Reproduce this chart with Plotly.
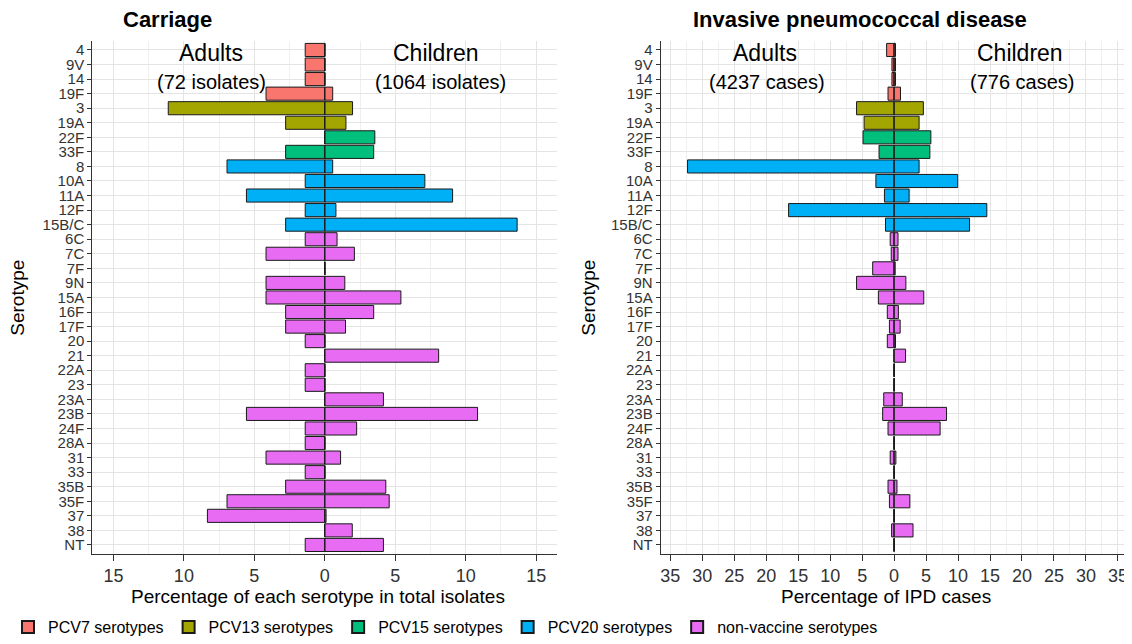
import plotly.graph_objects as go

serotypes = ["4", "9V", "14", "19F", "3", "19A", "22F", "33F", "8", "10A", "11A", "12F",
             "15B/C", "6C", "7C", "7F", "9N", "15A", "16F", "17F", "20", "21", "22A", "23",
             "23A", "23B", "24F", "28A", "31", "33", "35B", "35F", "37", "38", "NT"]
groups = (["PCV7 serotypes"] * 4 + ["PCV13 serotypes"] * 2 + ["PCV15 serotypes"] * 2 +
          ["PCV20 serotypes"] * 5 + ["non-vaccine serotypes"] * 22)
group_order = ["PCV7 serotypes", "PCV13 serotypes", "PCV15 serotypes",
               "PCV20 serotypes", "non-vaccine serotypes"]
group_colors = ["#F8766D", "#A3A500", "#00BF7D", "#00B0F6", "#E76BF3"]

carriage_adults = [1.39, 1.39, 1.39, 4.17, 11.11, 2.78, 0, 2.78, 6.94, 1.39, 5.56, 1.39,
                   2.78, 1.39, 4.17, 0, 4.17, 4.17, 2.78, 2.78, 1.39, 0, 1.39, 1.39,
                   0, 5.56, 1.39, 1.39, 4.17, 1.39, 2.78, 6.94, 8.33, 0, 1.39]
carriage_children = [0, 0, 0, 0.56, 1.97, 1.5, 3.55, 3.47, 0.56, 7.1, 9.07, 0.79,
                     13.65, 0.87, 2.1, 0, 1.42, 5.4, 3.47, 1.47, 0, 8.08, 0, 0,
                     4.16, 10.84, 2.26, 0, 1.12, 0, 4.33, 4.57, 0.09, 1.95, 4.16]
ipd_adults = [1.17, 0.34, 0.34, 0.95, 5.87, 4.69, 4.86, 2.35, 32.3, 2.85, 1.51, 16.5,
              1.34, 0.61, 0.45, 3.35, 5.87, 2.46, 1.06, 0.73, 1.06, 0, 0, 0,
              1.62, 1.79, 0.95, 0, 0.61, 0, 0.95, 0.73, 0, 0.39, 0]
ipd_children = [0.22, 0.22, 0.22, 1.0, 4.58, 3.91, 5.75, 5.59, 3.91, 9.94, 2.35, 14.5,
                11.8, 0.61, 0.61, 0.17, 1.84, 4.64, 0.67, 0.95, 0.22, 1.79, 0, 0,
                1.28, 8.2, 7.2, 0, 0.28, 0, 0.45, 2.46, 0, 2.96, 0]

carriage_ticks = [-15, -10, -5, 0, 5, 10, 15]
carriage_minor = [-12.5, -7.5, -2.5, 2.5, 7.5, 12.5]
ipd_ticks = [-35, -30, -25, -20, -15, -10, -5, 0, 5, 10, 15, 20, 25, 30, 35]
ipd_minor = [-32.5, -27.5, -22.5, -17.5, -12.5, -7.5, -2.5, 2.5, 7.5, 12.5, 17.5, 22.5, 27.5, 32.5]

# page body has an 8px default margin: lay out in page pixels, convert to figure
OFF = 8
W, H = 1132 - OFF, 644 - OFF
FONT = "Liberation Sans, Arial, sans-serif"


def px(x):
    return (x - OFF) / W


def py(y):
    return 1 - (y - OFF) / H


fig = go.Figure()
idx = list(range(len(serotypes)))

panels = [("x", "y", carriage_adults, carriage_children, True),
          ("x2", "y2", ipd_adults, ipd_children, False)]
for xa, ya, adults, children, showleg in panels:
    for g, col in zip(group_order, group_colors):
        ys = [i for i in idx if groups[i] == g]
        for side, vals in (("Adults", adults), ("Children", children)):
            xs = [(-vals[i] if side == "Adults" else vals[i]) for i in ys]
            fig.add_trace(go.Bar(
                x=xs, y=ys, orientation="h", width=0.9,
                marker=dict(color=col, line=dict(color="#1a1a1a", width=1)),
                name=g, legendgroup=g,
                showlegend=(showleg and side == "Adults"),
                xaxis=xa, yaxis=ya))
    # zero-width bar outlines (vertical segment at 0 for each serotype row)
    zx, zy = [], []
    for i in idx:
        zx += [0, 0, None]
        zy += [i - 0.45, i + 0.45, None]
    fig.add_trace(go.Scatter(x=zx, y=zy, mode="lines",
                             line=dict(color="#1a1a1a", width=1),
                             showlegend=False, hoverinfo="skip",
                             xaxis=xa, yaxis=ya))

grid_major = "#E4E4E4"
grid_minor = "#EFEFEF"
axis_col = "#333333"

ydom = [py(558), py(41.5)]
yaxis_common = dict(
    tickmode="array", tickvals=idx, ticktext=serotypes,
    range=[len(serotypes) - 1 + 0.6, -0.6], domain=ydom,
    showgrid=True, gridcolor=grid_major, gridwidth=1,
    zeroline=False, showline=True, linecolor=axis_col, linewidth=1,
    ticks="outside", ticklen=4, tickcolor=axis_col,
    tickfont=dict(family=FONT, size=15, color="#333333"),
    automargin=False, fixedrange=True)


def xaxis_common(ticks, minor, rng, dom, anchor):
    return dict(
        tickmode="array", tickvals=ticks, ticktext=[str(abs(t)) for t in ticks],
        range=rng, domain=dom, anchor=anchor,
        showgrid=True, gridcolor=grid_major, gridwidth=1,
        minor=dict(tickmode="array", tickvals=minor, showgrid=True,
                   gridcolor=grid_minor, gridwidth=1, ticks=""),
        zeroline=False, showline=True, linecolor=axis_col, linewidth=1,
        ticks="outside", ticklen=6, tickcolor=axis_col,
        tickfont=dict(family=FONT, size=18, color="#333333"),
        automargin=False, fixedrange=True)


fig.update_layout(
    width=W, height=H,
    margin=dict(l=0, r=0, t=0, b=0),
    paper_bgcolor="white", plot_bgcolor="white",
    barmode="overlay",
    font=dict(family=FONT, color="black"),
    xaxis=xaxis_common(carriage_ticks, carriage_minor, [-16.5, 16.5],
                       [px(92.3), px(557.3)], "y"),
    yaxis=dict(yaxis_common, anchor="x"),
    xaxis2=xaxis_common(ipd_ticks, ipd_minor, [-36.5, 36.5],
                        [px(660.7), px(1127.5)], "y2"),
    yaxis2=dict(yaxis_common, anchor="x2"),
    legend=dict(orientation="h", x=0, xanchor="left", y=py(632), yanchor="middle",
                font=dict(family=FONT, size=16, color="black"),
                bgcolor="rgba(0,0,0,0)", borderwidth=0, traceorder="normal",
                itemsizing="constant"),
    showlegend=True,
)

annotations = [
    dict(text="<b>Carriage</b>", x=px(121), y=py(20), xanchor="left", font_size=22),
    dict(text="<b>Invasive pneumococcal disease</b>", x=px(691), y=py(20), xanchor="left", font_size=22),
    dict(text="Adults", x=px(211), y=py(53), xanchor="center", font_size=23),
    dict(text="(72 isolates)", x=px(211), y=py(83), xanchor="center", font_size=20),
    dict(text="Children", x=px(436), y=py(53), xanchor="center", font_size=23),
    dict(text="(1064 isolates)", x=px(440), y=py(83), xanchor="center", font_size=20),
    dict(text="Adults", x=px(765), y=py(53), xanchor="center", font_size=23),
    dict(text="(4237 cases)", x=px(767), y=py(83), xanchor="center", font_size=20),
    dict(text="Children", x=px(1020), y=py(53), xanchor="center", font_size=23),
    dict(text="(776 cases)", x=px(1022), y=py(83), xanchor="center", font_size=20),
    dict(text="Percentage of each serotype in total isolates", x=px(318), y=py(601),
         xanchor="center", font_size=19),
    dict(text="Percentage of IPD cases", x=px(886), y=py(601), xanchor="center", font_size=19),
    dict(text="Serotype", x=px(18), y=py(300), xanchor="center", textangle=-90, font_size=19),
    dict(text="Serotype", x=px(589), y=py(300), xanchor="center", textangle=-90, font_size=19),
]
for a in annotations:
    a.update(xref="paper", yref="paper", showarrow=False, yanchor="middle")
    a["font"] = dict(family=FONT, size=a.pop("font_size"), color="black")
fig.update_layout(annotations=annotations)

fig.write_html("out.html")
